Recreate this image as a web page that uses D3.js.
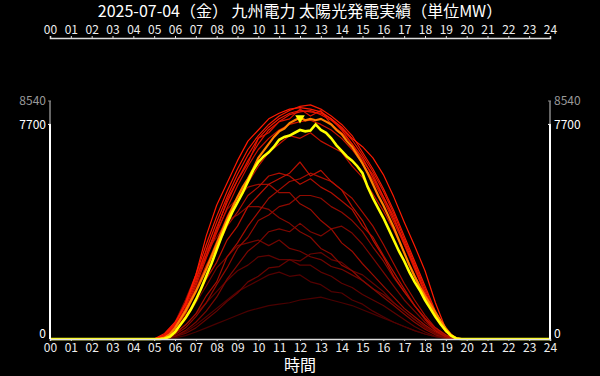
<!DOCTYPE html>
<html>
<head>
<meta charset="utf-8">
<script src="https://cdn.jsdelivr.net/npm/d3@7"></script>
<style>
  body { margin: 0; background: #000; }
  svg { display: block; }
  text { font-family: "Noto Sans CJK JP", "Noto Sans", sans-serif; }
</style>
</head>
<body>
<div id="chart"></div>
<script>
// Kyushu solar output, 2025-07-04 vs. earlier days (MW)

let title = "2025-07-04（金） 九州電力 太陽光発電実績（単位MW）";
let xLabel = "時間";
let hourLabels = ["00","01","02","03","04","05","06","07","08","09","10","11",
                  "12","13","14","15","16","17","18","19","20","21","22","23","24"];
let yMax = 8540;
let todayMax = 7700;

// half-hour grid 05:00 .. 20:00 for the past days
let halfHours = [5, 5.5, 6, 6.5, 7, 7.5, 8, 8.5, 9, 9.5, 10, 10.5, 11, 11.5, 12, 12.5,
                 13, 13.5, 14, 14.5, 15, 15.5, 16, 16.5, 17, 17.5, 18, 18.5, 19, 19.5, 20];

// past days, oldest / dullest first
let pastDays = [
  [0,5,40,120,250,400,550,700,850,1000,1100,1200,1250,1300,1400,1450,1500,1400,1300,1200,1050,900,750,600,450,300,180,80,20,0,0],
  [0,10,80,250,500,800,1100,1400,1700,1900,2100,2300,2400,2250,2300,2050,1950,1700,1650,1400,1250,1000,800,600,450,300,180,80,20,0,0],
  [0,30,200,500,900,1300,1700,2100,2450,2650,2950,3000,2850,2850,2650,2650,2400,2250,2000,1850,1600,1400,1200,950,700,450,250,100,30,0,0],
  [0,10,80,200,400,700,1000,1350,1650,2050,2250,2550,2600,2850,2800,3050,3100,2850,2750,2450,2300,2000,1700,1300,1000,700,400,200,50,0,0],
  [0,40,250,700,1300,1900,2550,2950,3350,3450,3550,3350,3550,3250,3150,2950,2850,2600,2500,2300,2100,1800,1600,1300,1000,700,450,200,60,0,0],
  [0,20,100,300,600,1000,1500,2150,2650,3150,3450,3850,3950,3850,4150,3850,3700,3950,4050,3800,3400,2900,2400,1900,1400,1000,600,300,100,0,0],
  [0,100,600,1400,2300,3150,3650,4250,4450,4750,4750,4650,4350,4150,3850,3650,3250,3050,2650,2450,2100,1800,1500,1200,900,600,350,150,40,0,0],
  [0,20,150,400,800,1300,1950,2550,3250,3650,4250,4450,4750,4850,5150,5150,5050,4750,4550,4250,3850,3300,2800,2200,1700,1200,750,350,100,0,0],
  [0,80,500,1300,2200,3150,3850,4650,5050,5450,5550,5550,5250,5250,4850,4650,4250,3950,3450,3150,2700,2300,1900,1500,1100,800,500,250,80,0,0],
  [0,30,200,500,900,1550,2050,2950,3450,4050,4550,5050,5350,5650,5750,5950,5800,5650,5350,5050,4550,4050,3400,2700,2000,1400,850,400,120,10,0],
  [0,60,400,1000,1800,2650,3250,4050,4550,5150,5450,5850,5950,5850,5550,5750,5450,5250,4950,4650,4050,3650,3000,2400,1800,1200,700,300,80,0,0],
  [0,50,300,800,1400,2150,2750,3550,4050,4750,5150,5550,5750,5950,6350,5850,6050,5650,5350,4750,4250,3550,2950,2250,1700,1200,750,400,150,20,0],
  [0,60,350,900,1700,2600,3500,4400,5100,5600,6200,6700,7000,7300,7200,7400,7100,6900,6700,6200,5800,5200,4600,3900,3100,2300,1500,800,250,10,0],
  [0,80,400,1000,1900,2900,3800,4700,5500,6200,6800,7200,7500,7700,7800,7850,7700,7500,7200,6800,6300,5700,5000,4200,3400,2500,1650,850,260,10,0],
  [0,120,550,1300,2200,3000,3900,5000,5700,6300,7200,7400,7800,7900,8250,8000,8200,7700,7400,7000,6400,5900,5100,4400,3400,2600,1600,800,250,10,0],
  [0,100,450,1100,2000,3000,4000,4900,5700,6400,7000,7500,7800,8050,8150,8200,8050,7850,7550,7150,6600,6000,5300,4500,3600,2700,1800,950,300,20,0],
  [0,120,500,1200,2100,3200,4200,5100,5900,6600,7200,7600,7900,8100,8200,8150,8100,7900,7500,7000,6500,5800,5100,4300,3500,2600,1700,900,280,20,0],
  [0,150,550,1300,2300,3400,4400,5300,6100,6800,7300,7700,8000,8200,8350,8400,8250,8000,7700,7300,6700,6100,5400,4600,3700,2800,1900,1000,300,20,0],
  [0,200,600,1200,2300,3700,4800,5600,6400,7100,7500,7900,8100,8250,8300,8250,8150,7900,7600,7200,6900,6500,5900,5100,4200,3350,2450,1300,350,0,0]
];

// quarter-hour grid 05:00 .. 20:00 for yesterday and today
let quarterHours = d3.range(5, 20.001, 0.25);

let yesterday = [0,0,50,170,400,700,1000,1350,1700,2100,2500,2950,3400,3850,4300,4700,
  5100,5450,5750,6100,6500,6750,7000,7250,7450,7550,7750,7850,7950,7850,7900,7850,
  7900,7800,7700,7500,7350,7100,6900,6600,6300,5950,5550,5150,4800,4400,4000,3550,
  3100,2650,2250,1880,1550,1250,950,650,380,150,30,0,0];

let today = [0,0,20,80,250,500,750,1050,1400,1800,2250,2700,3200,3700,4150,4550,
  4900,5250,5650,6050,6350,6550,6700,6900,7150,7250,7300,7400,7500,7450,7480,7700,
  7500,7400,7200,6950,6750,6550,6400,6200,5950,5450,5050,4700,4350,3950,3550,3150,
  2800,2400,2050,1750,1400,1100,800,530,300,120,20,0,0];

////////////////////////////////////////////////////////////////////////

let width = 600, height = 376;
let plotLeft = 50, plotRight = 550, plotTop = 101, plotBottom = 339;

let svg = d3.select("#chart").append("svg")
  .attr("width", width).attr("height", height)
  .style("background", "#000");

let xScale = d3.scaleLinear().domain([0, 24]).range([plotLeft, plotRight]);
let yScale = d3.scaleLinear().domain([0, yMax]).range([plotBottom, plotTop]);

function toPoints(times, values) {
  let pts = times.map(function(t, i) { return [t, values[i]]; });
  return [[0, 0]].concat(pts, [[24, 0]]);
}

let line = d3.line()
  .x(function(d) { return xScale(d[0]); })
  .y(function(d) { return yScale(d[1]); });

// past days, dark red to bright red
let shade = d3.scaleLinear()
  .domain([0, pastDays.length - 1])
  .range(["#4a0000", "#ff1a00"]);

svg.append("g")
  .selectAll("path")
  .data(pastDays)
  .enter()
  .append("path")
  .attr("d", function(d) { return line(toPoints(halfHours, d)); })
  .attr("fill", "none")
  .attr("stroke", function(d, i) { return shade(i); })
  .attr("stroke-width", 1.2)
  .attr("stroke-linejoin", "round");

svg.append("path")
  .attr("d", line(toPoints(quarterHours, yesterday)))
  .attr("fill", "none")
  .attr("stroke", "#ff8000")
  .attr("stroke-width", 2.2);

svg.append("path")
  .attr("d", line(toPoints(quarterHours, today)))
  .attr("fill", "none")
  .attr("stroke", "#ffff00")
  .attr("stroke-width", 2.6);

// marker on yesterday's peak
let peakIdx = d3.maxIndex(yesterday);
svg.append("path")
  .attr("d", d3.symbol().type(d3.symbolTriangle).size(40))
  .attr("transform", "translate(" + xScale(quarterHours[peakIdx]) + "," +
        (yScale(yesterday[peakIdx]) + 0.5) + ") rotate(180)")
  .attr("fill", "#ffff00");

// hour axes, top and bottom
let topAxis = svg.append("g")
  .attr("transform", "translate(0," + 38 + ")")
  .call(d3.axisTop(xScale).tickValues(d3.range(25)).tickSize(2)
        .tickFormat(function(d) { return hourLabels[d]; }));
let bottomAxis = svg.append("g")
  .attr("transform", "translate(0," + plotBottom + ")")
  .call(d3.axisBottom(xScale).tickValues(d3.range(25)).tickSize(2)
        .tickFormat(function(d) { return hourLabels[d]; }));

[topAxis, bottomAxis].forEach(function(ax) {
  ax.select(".domain").attr("stroke", "#ddd").attr("stroke-width", 1.5);
  ax.selectAll(".tick line").attr("stroke", "#ddd");
  ax.selectAll("text").attr("fill", "#eee").style("font-size", "12px");
});
topAxis.selectAll("text").attr("y", -4);
bottomAxis.selectAll("text").attr("y", 4);

// value axes at both ends
[plotLeft, plotRight].forEach(function(x, side) {
  let g = svg.append("g");
  g.append("line")
    .attr("x1", x).attr("x2", x)
    .attr("y1", yScale(yMax)).attr("y2", yScale(todayMax))
    .attr("stroke", "#888").attr("stroke-width", 1.5);
  g.append("line")
    .attr("x1", x).attr("x2", x)
    .attr("y1", yScale(todayMax)).attr("y2", yScale(0))
    .attr("stroke", "#fff").attr("stroke-width", 2);
  g.append("line")
    .attr("x1", x - 2).attr("x2", x + 1)
    .attr("y1", yScale(yMax)).attr("y2", yScale(yMax))
    .attr("stroke", "#888");
  g.append("line")
    .attr("x1", x - 2).attr("x2", x + 1)
    .attr("y1", yScale(todayMax)).attr("y2", yScale(todayMax))
    .attr("stroke", "#fff");

  let tx = side === 0 ? x - 4 : x + 4;
  let anchor = side === 0 ? "end" : "start";
  [[yMax, "#999"], [todayMax, "#fff"], [0, "#fff"]].forEach(function(t) {
    g.append("text")
      .attr("x", tx)
      .attr("y", yScale(t[0]) - (t[0] === 0 ? 5 : 0))
      .attr("dy", "0.35em")
      .attr("text-anchor", anchor)
      .attr("fill", t[1])
      .style("font-size", "12px")
      .text(t[0]);
  });
});

svg.append("text")
  .attr("x", 300).attr("y", 17)
  .attr("text-anchor", "middle")
  .attr("fill", "#fff")
  .style("font-size", "16px")
  .text(title);

svg.append("text")
  .attr("x", 300).attr("y", 371)
  .attr("text-anchor", "middle")
  .attr("fill", "#fff")
  .style("font-size", "16px")
  .text(xLabel);
</script>
</body>
</html>
